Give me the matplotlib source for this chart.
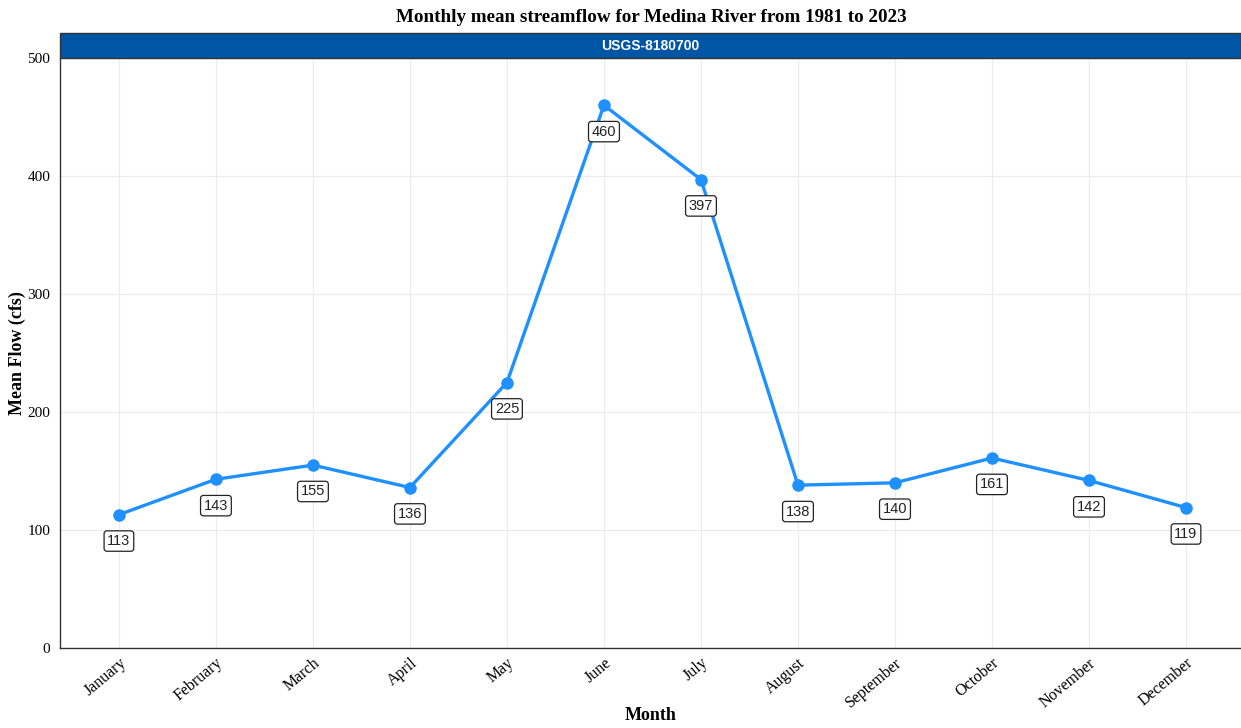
import matplotlib.pyplot as plt
from matplotlib.patches import Rectangle

# monthly mean flow, Medina River (USGS-8180700), 1981-2023
months = ['January', 'February', 'March', 'April', 'May', 'June',
          'July', 'August', 'September', 'October', 'November', 'December']
mean_flow = [113, 143, 155, 136, 225, 460, 397, 138, 140, 161, 142, 119]
station = 'USGS-8180700'

serif = ['Liberation Serif', 'DejaVu Serif']
sans = ['Liberation Sans', 'DejaVu Sans']

fig = plt.figure(figsize=(12.41, 7.28), dpi=100)
ax = fig.add_axes([0.0483, 0.1099, 0.9517, 0.8104])

x = list(range(len(months)))
ax.plot(x, mean_flow, color='#1E90FF', lw=2.4, marker='o', ms=8, zorder=3)

for xi, v in zip(x, mean_flow):
    ax.annotate(str(v), (xi, v), xytext=(0, -19), textcoords='offset points',
                ha='center', va='center', fontsize=10.5, family=sans, color='#222222',
                bbox=dict(boxstyle='round,pad=0.22,rounding_size=0.2', fc='white',
                          ec='#222222', lw=0.9), zorder=4)

ax.set_xlim(-0.608, 11.567)
ax.set_ylim(0, 500)
ax.set_xticks(x)
ax.set_xticklabels(months, rotation=40, ha='right', rotation_mode='anchor',
                   family=serif, fontsize=11.5)
ax.set_yticks([0, 100, 200, 300, 400, 500])
ax.set_yticklabels(['0', '100', '200', '300', '400', '500'], family=serif, fontsize=11)
ax.tick_params(axis='both', length=0)
ax.tick_params(axis='x', pad=5)
ax.tick_params(axis='y', pad=7)

ax.grid(True, color='#EBEBEB', lw=0.8)
ax.set_axisbelow(True)
for s in ['top', 'right']:
    ax.spines[s].set_visible(False)
for s in ['left', 'bottom']:
    ax.spines[s].set_color('#333333')
    ax.spines[s].set_linewidth(1.0)

ax.set_xlabel('Month', family=serif, fontsize=13, fontweight='bold', va='center')
ax.xaxis.set_label_coords(0.5, -0.115)
ax.set_ylabel('Mean Flow (cfs)', family=serif, fontsize=13, fontweight='bold', labelpad=1)

# facet strip above the panel
strip_h = 0.0343
fig.patches.append(Rectangle((0.0483, 0.9203), 0.9517, strip_h, transform=fig.transFigure,
                             fc='#0055A4', ec='#333333', lw=1.0, zorder=5))
fig.text(0.0483 + 0.9517 / 2, 0.9203 + strip_h / 2, station, ha='center', va='center',
         color='white', fontsize=10, fontweight='bold', family=sans, zorder=6)

fig.text(0.525, 0.976, 'Monthly mean streamflow for Medina River from 1981 to 2023',
         ha='center', va='center', family=serif, fontsize=13.7, fontweight='bold')

fig.savefig('out.png', dpi=100)
